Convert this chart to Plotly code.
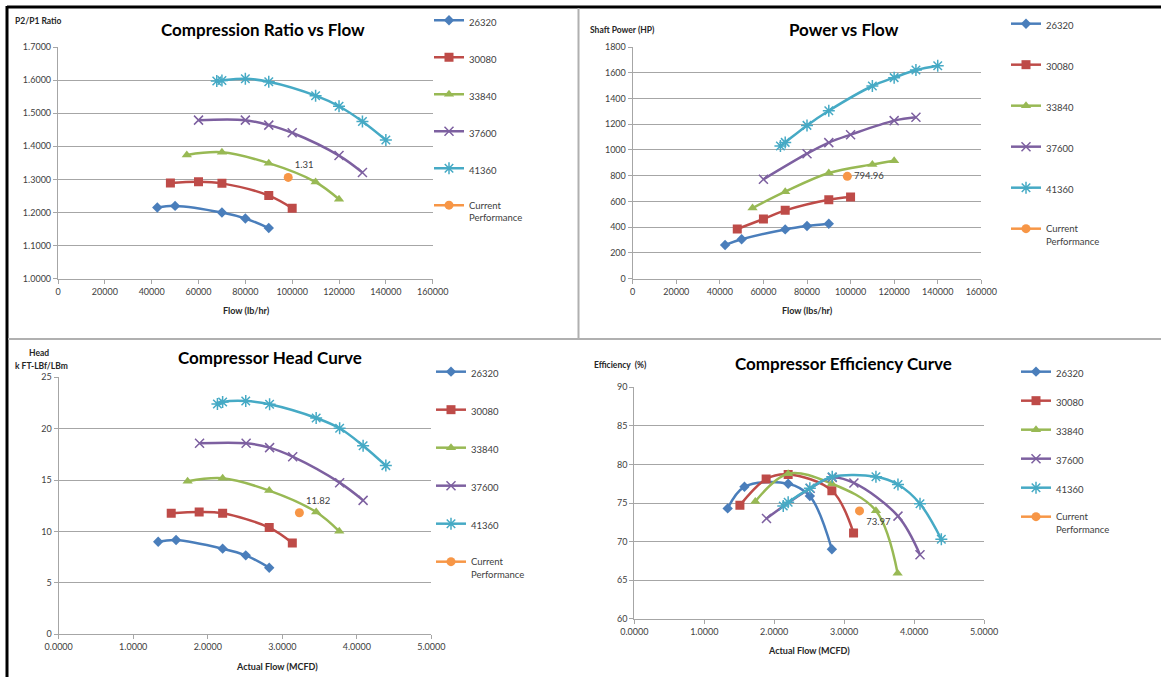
import plotly.graph_objects as go

W, H = 1161, 677

# ---------------- data ----------------
series_names = ["26320", "30080", "33840", "37600", "41360"]

flow_lbhr = {
    "26320": [42400, 50000, 70000, 80000, 90000],
    "30080": [48000, 60000, 70000, 90000, 100000],
    "33840": [55000, 70000, 90000, 110000, 120000],
    "37600": [60000, 80000, 90000, 100000, 120000, 130000],
    "41360": [67800, 70000, 80000, 90000, 110000, 120000, 130000, 140000],
}
ratio = {
    "26320": [1.215, 1.220, 1.200, 1.182, 1.153],
    "30080": [1.289, 1.293, 1.288, 1.251, 1.213],
    "33840": [1.374, 1.382, 1.349, 1.292, 1.240],
    "37600": [1.479, 1.479, 1.464, 1.441, 1.372, 1.321],
    "41360": [1.597, 1.599, 1.604, 1.595, 1.553, 1.521, 1.475, 1.419],
}
power = {
    "26320": [262, 306, 383, 409, 427],
    "30080": [386, 464, 531, 614, 635],
    "33840": [549, 676, 821, 888, 917],
    "37600": [772, 971, 1057, 1119, 1228, 1254],
    "41360": [1031, 1059, 1191, 1305, 1497, 1562, 1621, 1655],
}
flow_mcfd = {
    "26320": [1.335, 1.575, 2.200, 2.510, 2.825],
    "30080": [1.510, 1.885, 2.200, 2.825, 3.135],
    "33840": [1.730, 2.200, 2.825, 3.455, 3.765],
    "37600": [1.890, 2.515, 2.830, 3.140, 3.770, 4.085],
    "41360": [2.130, 2.200, 2.510, 2.830, 3.455, 3.770, 4.085, 4.390],
}
head = {
    "26320": [9.00, 9.18, 8.33, 7.68, 6.48],
    "30080": [11.77, 11.90, 11.77, 10.38, 8.88],
    "33840": [14.88, 15.18, 13.98, 11.90, 10.02],
    "37600": [18.58, 18.58, 18.16, 17.28, 14.75, 13.03],
    "41360": [22.41, 22.60, 22.70, 22.37, 21.04, 20.04, 18.35, 16.41],
}
efficiency = {
    "26320": [74.3, 77.1, 77.5, 75.9, 69.0],
    "30080": [74.7, 78.1, 78.7, 76.6, 71.1],
    "33840": [75.2, 78.8, 77.5, 74.0, 65.9],
    "37600": [73.0, 76.9, 78.3, 77.6, 73.3, 68.3],
    "41360": [74.6, 75.1, 76.9, 78.4, 78.4, 77.4, 74.9, 70.3],
}
current_flow_lbhr = [98300]
current_ratio = [1.306]
current_ratio_label = ["1.31"]
current_power_flow = [98500]
current_power = [794.96]
current_power_label = ["794.96"]
current_head_flow = [3.23]
current_head = [11.82]
current_head_label = ["11.82"]
current_eff_flow = [3.22]
current_eff = [73.97]
current_eff_label = ["73.97"]

# ---------------- styles ----------------
FONT = "Lato"
TXT = "#404040"
GRID = "#a6a6a6"
colors = {"26320": "#4A7EBB", "30080": "#BE4B48", "33840": "#98B954",
          "37600": "#7D60A0", "41360": "#46AAC5"}
mk = {
    "26320": dict(symbol="diamond", size=8),
    "30080": dict(symbol="square", size=9),
    "33840": dict(symbol="triangle-up", size=9),
    "37600": dict(symbol="x-thin-open", size=9, line=dict(width=1.5, color="#9b86bd")),
    "41360": dict(symbol="asterisk-open", size=10, line=dict(width=1.5, color="#6fc0d8")),
}
ORANGE = "#F79646"

fig = go.Figure()

def px_x(p):
    return p / W

def px_y(p):
    return 1 - p / H

panels = [
    ("x", "y", "legend", flow_lbhr, ratio, current_flow_lbhr, current_ratio, current_ratio_label, "top right"),
    ("x2", "y2", "legend2", flow_lbhr, power, current_power_flow, current_power, current_power_label, "middle right"),
    ("x3", "y3", "legend3", flow_mcfd, head, current_head_flow, current_head, current_head_label, "top right"),
    ("x4", "y4", "legend4", flow_mcfd, efficiency, current_eff_flow, current_eff, current_eff_label, "bottom right"),
]

for i, (xa, ya, lg, xd, yd, cx, cy, cl, tp) in enumerate(panels):
    for s in series_names:
        m = dict(mk[s])
        m["color"] = colors[s]
        fig.add_trace(go.Scatter(
            x=xd[s], y=yd[s], name=s, mode="lines+markers",
            line=dict(color=colors[s], width=2.5, shape="spline", smoothing=1),
            marker=m, xaxis=xa, yaxis=ya, legend=lg,
            legendgroup=f"p{i}_{s}", hoverinfo="x+y",
        ))
    fig.add_trace(go.Scatter(
        x=cx, y=cy, name="Current<br>Performance", mode="lines+markers+text",
        line=dict(color=ORANGE, width=2.5),
        marker=dict(symbol="circle", size=9, color=ORANGE),
        text=cl, textposition=tp, textfont=dict(family=FONT, size=9.5, color=TXT),
        xaxis=xa, yaxis=ya, legend=lg, legendgroup=f"p{i}_cur",
    ))

dom = {
    1: ((58, 432.7), (47, 278.7)),
    2: ((632.7, 981.3), (47, 278.7)),
    3: ((58.7, 431.3), (377.3, 634.3)),
    4: ((634.3, 984.0), (387.3, 618.7)),
}
xr = {1: [0, 160000], 2: [0, 160000], 3: [0, 5], 4: [0, 5]}
xd_ = {1: 20000, 2: 20000, 3: 1, 4: 1}
xfmt = {1: "d", 2: "d", 3: ".4f", 4: ".4f"}
yr = {1: [1.0, 1.7], 2: [0, 1800], 3: [0, 25], 4: [60, 90]}
yd_ = {1: 0.1, 2: 200, 3: 5, 4: 5}
yfmt = {1: ".4f", 2: "d", 3: "d", 4: "d"}

layout = dict(
    width=W, height=H, margin=dict(l=0, r=0, t=0, b=0, autoexpand=False),
    paper_bgcolor="white", plot_bgcolor="white",
    font=dict(family=FONT, size=9, color=TXT),
    showlegend=True,
)
for k in range(1, 5):
    (x0, x1), (yt, yb) = dom[k]
    sx = "" if k == 1 else str(k)
    layout["xaxis" + sx] = dict(
        domain=[px_x(x0), px_x(x1)], range=xr[k], dtick=xd_[k], tick0=0,
        tickformat=xfmt[k], showgrid=False, zeroline=False,
        showline=True, linecolor=GRID, linewidth=1.2,
        ticks="outside", ticklen=4, tickcolor=GRID,
        tickfont=dict(family=FONT, size=9, color=TXT),
        anchor="y" + sx, fixedrange=True, automargin=False,
    )
    layout["yaxis" + sx] = dict(
        domain=[px_y(yb), px_y(yt)], range=yr[k], dtick=yd_[k], tick0=0,
        tickformat=yfmt[k], showgrid=True, gridcolor=GRID, gridwidth=1.2,
        zeroline=False, showline=True, linecolor=GRID, linewidth=1.2,
        ticks="outside", ticklen=4, tickcolor=GRID,
        tickfont=dict(family=FONT, size=9, color=TXT),
        anchor="x" + sx, fixedrange=True, automargin=False,
    )

leg_common = dict(font=dict(family=FONT, size=9.5, color=TXT), bgcolor="rgba(0,0,0,0)",
                  borderwidth=0, xanchor="left", yanchor="top", traceorder="grouped",
                  valign="top", itemwidth=30)
layout["legend"] = dict(leg_common, x=px_x(429), y=px_y(7.5), tracegroupgap=18)
layout["legend2"] = dict(leg_common, x=px_x(1006), y=px_y(11), tracegroupgap=22)
layout["legend3"] = dict(leg_common, x=px_x(431), y=px_y(359), tracegroupgap=19)
layout["legend4"] = dict(leg_common, x=px_x(1016), y=px_y(359), tracegroupgap=10)

fig.update_layout(**layout)

def ann(text, x, y, size, bold=True, xanchor="center"):
    fig.add_annotation(text=f"<b>{text}</b>" if bold else text, x=px_x(x), y=px_y(y),
                       xref="paper", yref="paper", showarrow=False,
                       xanchor=xanchor, yanchor="middle",
                       font=dict(family=FONT, size=size, color="#000000" if size > 12 else "#262626"))

# titles
ann("Compression Ratio vs Flow", 263, 29, 17)
ann("Power vs Flow", 844, 29, 17)
ann("Compressor Head Curve", 270, 357, 17)
ann("Compressor Efficiency Curve", 843, 363, 17)
# y-axis titles
ann("P2/P1 Ratio", 13, 21, 8.5, xanchor="left")
ann("Shaft Power (HP)", 588, 30, 8.5, xanchor="left")
ann("Head", 39, 353, 8.5)
ann("k FT-LBf/LBm", 13, 366, 8.5, xanchor="left")
ann("Efficiency &nbsp;(%)", 592, 365, 8.5, xanchor="left")
# x-axis titles
ann("Flow (lb/hr)", 246, 311, 9)
ann("Flow (lbs/hr)", 807, 310, 9)
ann("Actual Flow (MCFD)", 277, 666, 9)
ann("Actual Flow (MCFD)", 809, 650, 9)

shapes = [
    dict(type="line", x0=px_x(7), x1=1, y0=px_y(7), y1=px_y(7), line=dict(color="#000000", width=3)),
    dict(type="line", x0=px_x(7), x1=px_x(7), y0=px_y(6), y1=0, line=dict(color="#000000", width=3)),
    dict(type="line", x0=px_x(578.5), x1=px_x(578.5), y0=px_y(8), y1=px_y(339), line=dict(color="#b0b0b0", width=2)),
    dict(type="line", x0=px_x(8), x1=1, y0=px_y(339), y1=px_y(339), line=dict(color="#b0b0b0", width=2)),
]
for s in shapes:
    s["xref"] = "paper"
    s["yref"] = "paper"
fig.update_layout(shapes=shapes)

fig.write_html("out.html", config={"displayModeBar": False},
               post_script="document.body.style.margin='0';document.body.style.overflow='hidden';")
